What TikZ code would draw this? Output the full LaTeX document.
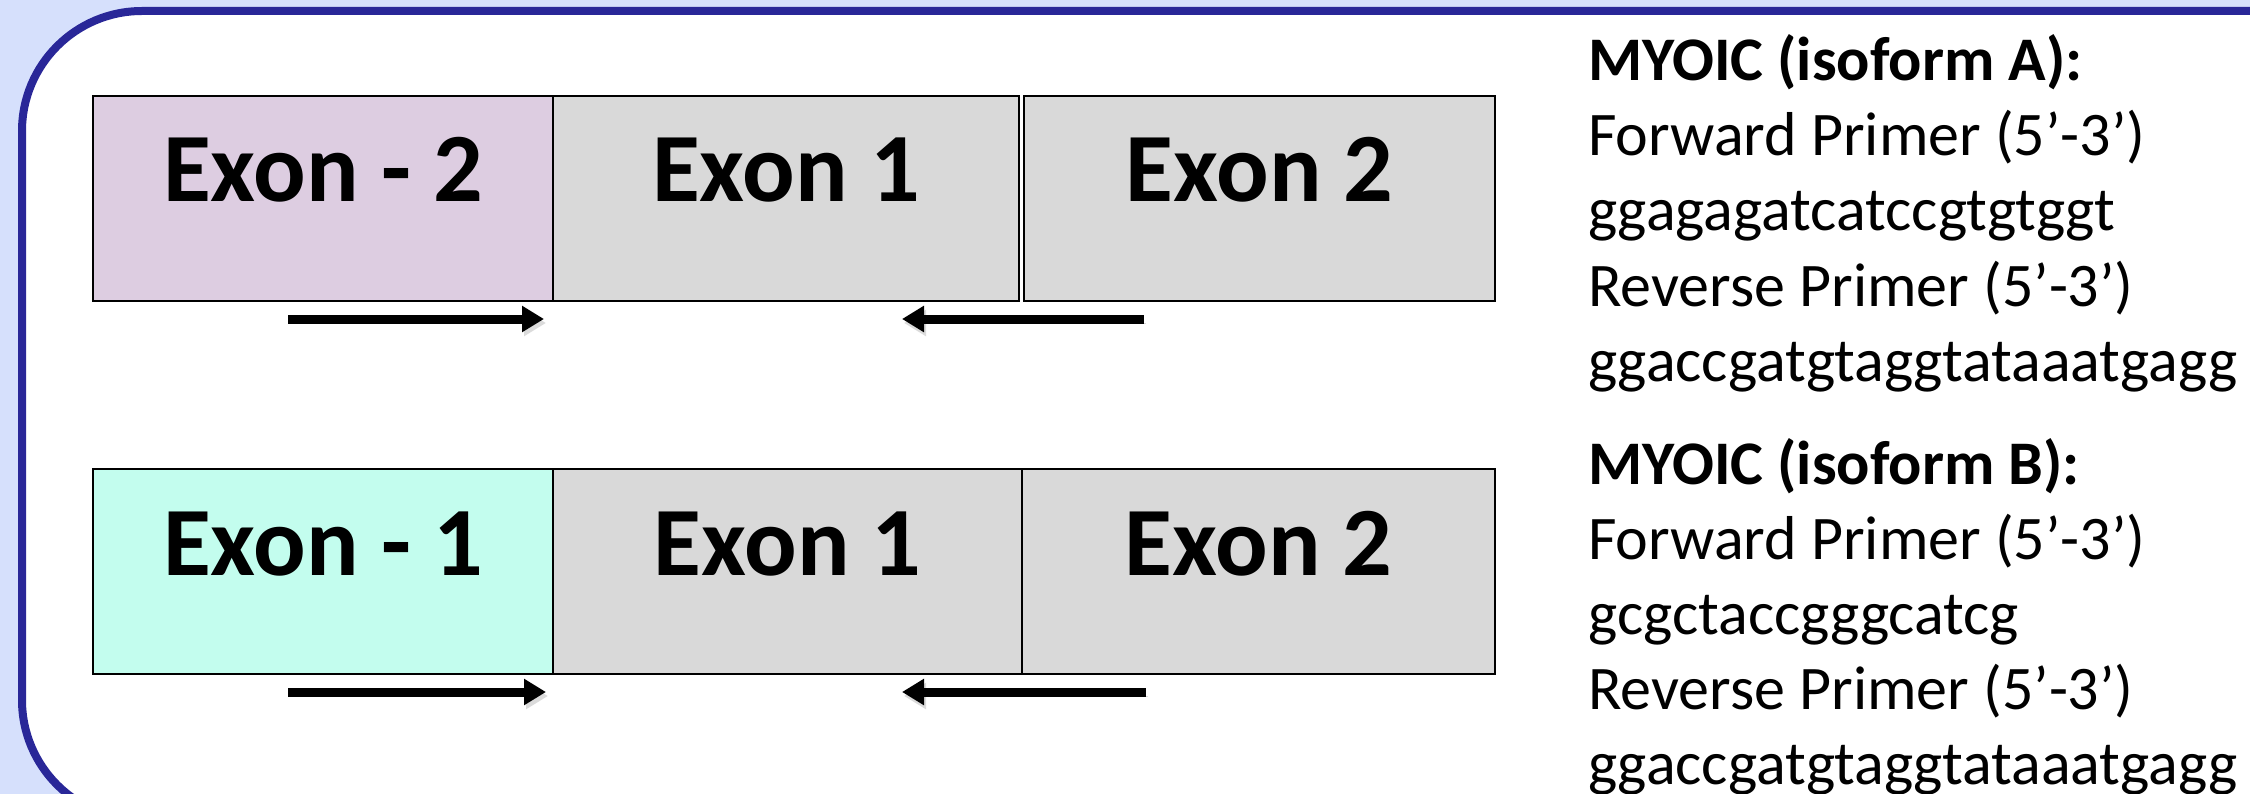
\documentclass[tikz,border=0pt]{standalone}
\usepackage{fontspec}
\setmainfont{Carlito}
\usetikzlibrary{positioning,arrows.meta}

\definecolor{slidebg}{RGB}{214,224,252}
\definecolor{slideline}{RGB}{41,39,152}
\definecolor{exonlilac}{RGB}{221,205,225}
\definecolor{exonmint}{RGB}{195,253,238}
\definecolor{exongray}{RGB}{217,217,217}

\newcommand{\exonfont}{\fontsize{98pt}{118pt}\selectfont\bfseries}
\newcommand{\primerfont}{\fontsize{62pt}{75pt}\selectfont}

\tikzset{
  exon/.style={draw=black, line width=2pt, fill=exongray, inner sep=0pt, outer sep=0pt,
    text height=106pt, text depth=99pt, font=\exonfont},
  primer/.style={line width=9pt, -{Triangle[length=22pt,width=25pt]},
    preaction={draw=black!14, transform canvas={shift={(2pt,-4pt)}}}},
  seqtext/.style={anchor=base west, inner sep=0pt, font=\primerfont},
}

\begin{document}
\begin{tikzpicture}[x=1pt,y=-1pt]
\useasboundingbox (0,0) rectangle (2250,794);
\clip (0,0) rectangle (2250,794);
\fill[slidebg] (0,0) rectangle (2250,794);
\draw[slideline, line width=8pt, fill=white, rounded corners=120pt] (22,11) rectangle (2400,820);

% isoform A
\node[exon, fill=exonlilac, minimum width=460pt, anchor=north west] (exAm2) at (93,96) {Exon - 2};
\node[exon, minimum width=466pt, right=0pt of exAm2] (exA1) {Exon 1};
\node[exon, minimum width=471pt, right=5pt of exA1] (exA2) {Exon 2};

\draw[primer] ([xshift=195pt,yshift=-18pt]exAm2.south west) -- ([xshift=-9pt,yshift=-18pt]exAm2.south east);
\draw[primer] ([xshift=120pt,yshift=-18pt]exA2.south west) -- ([xshift=349pt,yshift=-18pt]exA1.south west);

% isoform B
\node[exon, fill=exonmint, minimum width=460pt, anchor=north west] (exBm1) at (93,469) {Exon - 1};
\node[exon, minimum width=469pt, right=0pt of exBm1] (exB1) {Exon 1};
\node[exon, minimum width=473pt, right=0pt of exB1] (exB2) {Exon 2};

\draw[primer] ([xshift=195pt,yshift=-18pt]exBm1.south west) -- ([xshift=-7pt,yshift=-18pt]exBm1.south east);
\draw[primer] ([xshift=124pt,yshift=-18pt]exB2.south west) -- ([xshift=349pt,yshift=-18pt]exB1.south west);

% primers
\node[seqtext, font=\primerfont\bfseries] (isoAhead) at (1588,81) {MYOIC (isoform A):};
\node[seqtext] (isoAfwd) at ([yshift=-75pt]isoAhead.base west) {Forward Primer (5’-3’)};
\node[seqtext] (isoAfwdseq) at ([yshift=-75pt]isoAfwd.base west) {ggagagatcatccgtgtggt};
\node[seqtext] (isoArev) at ([yshift=-75pt]isoAfwdseq.base west) {Reverse Primer (5’-3’)};
\node[seqtext] (isoArevseq) at ([yshift=-75pt]isoArev.base west) {ggaccgatgtaggtataaatgagg};

\node[seqtext, font=\primerfont\bfseries] (isoBhead) at (1588,484) {MYOIC (isoform B):};
\node[seqtext] (isoBfwd) at ([yshift=-75pt]isoBhead.base west) {Forward Primer (5’-3’)};
\node[seqtext] (isoBfwdseq) at ([yshift=-75pt]isoBfwd.base west) {gcgctaccgggcatcg};
\node[seqtext] (isoBrev) at ([yshift=-75pt]isoBfwdseq.base west) {Reverse Primer (5’-3’)};
\node[seqtext] (isoBrevseq) at ([yshift=-75pt]isoBrev.base west) {ggaccgatgtaggtataaatgagg};
\end{tikzpicture}
\end{document}
